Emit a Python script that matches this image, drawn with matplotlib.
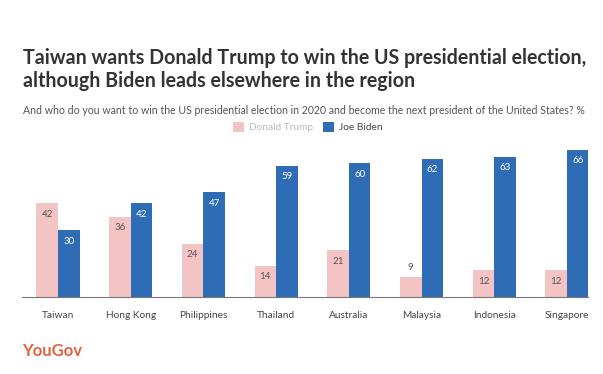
import matplotlib
matplotlib.use("Agg")
import matplotlib.pyplot as plt
import numpy as np

countries = ["Taiwan", "Hong Kong", "Philippines", "Thailand", "Australia",
             "Malaysia", "Indonesia", "Singapore"]
trump = [42, 36, 24, 14, 21, 9, 12, 12]
biden = [30, 42, 47, 59, 60, 62, 63, 66]
series_names = ["Donald Trump", "Joe Biden"]

PINK = "#f4c3c3"
BLUE = "#2e6cb5"
FONT = "Lato"

fig = plt.figure(figsize=(6.03, 3.74), dpi=100)
fig.patch.set_facecolor("white")

ax = fig.add_axes([22/603, 77/374, 566/603, 156/374])
x = np.arange(len(countries))
w = 0.296
b1 = ax.bar(x - w/2, trump, w, color=PINK, label=series_names[0])
b2 = ax.bar(x + w/2, biden, w, color=BLUE, label=series_names[1])

ax.set_xlim(-0.495, 7.29)
ax.set_ylim(0, 70)
for s in ["top", "right", "left"]:
    ax.spines[s].set_visible(False)
ax.spines["bottom"].set_color("#777777")
ax.spines["bottom"].set_linewidth(0.8)
ax.set_yticks([])
ax.set_xticks(x)
ax.set_xticklabels(countries, fontsize=7.3, color="#444444", family=FONT)
ax.tick_params(axis="x", length=0, pad=10)

# value labels
off = 11 * 70 / 156  # ~11px in data units
for xi, v in zip(x, trump):
    if v >= 12:
        ax.text(xi - w/2, v - off, str(v), ha="center", va="center",
                fontsize=7, color="#555555", family=FONT)
    else:
        ax.text(xi - w/2, v + off*0.9, str(v), ha="center", va="center",
                fontsize=7, color="#555555", family=FONT)
for xi, v in zip(x, biden):
    ax.text(xi + w/2, v - off, str(v), ha="center", va="center",
            fontsize=7, color="white", family=FONT)

# legend
leg = fig.legend(handles=[b1, b2], labels=series_names, loc="center",
                 bbox_to_anchor=(308/603, 1 - 127/374), ncol=2, frameon=False,
                 handlelength=1.1, handleheight=1.1,
                 columnspacing=1.0, handletextpad=0.5, prop={"family": FONT, "size": 7.3})
leg.get_texts()[0].set_color("#bbbbbb")
leg.get_texts()[1].set_color("#444444")

# titles
fig.text(23/603, 1 - 58/374,
         "Taiwan wants Donald Trump to win the US presidential election,",
         fontsize=14.1, fontweight="bold", color="#333333", family=FONT,
         va="center", ha="left")
fig.text(23/603, 1 - 81/374,
         "although Biden leads elsewhere in the region",
         fontsize=14.1, fontweight="bold", color="#333333", family=FONT,
         va="center", ha="left")
fig.text(23/603, 1 - 111/374,
         "And who do you want to win the US presidential election in 2020 and become the next president of the United States? %",
         fontsize=7.6, color="#555555", family=FONT, va="center", ha="left")

fig.text(22/603, 1 - 351/374, "YouGov", fontsize=12, fontweight="bold",
         color="#e5603f", family=FONT, va="center", ha="left")

fig.savefig("out.png", dpi=100, facecolor=fig.get_facecolor())
